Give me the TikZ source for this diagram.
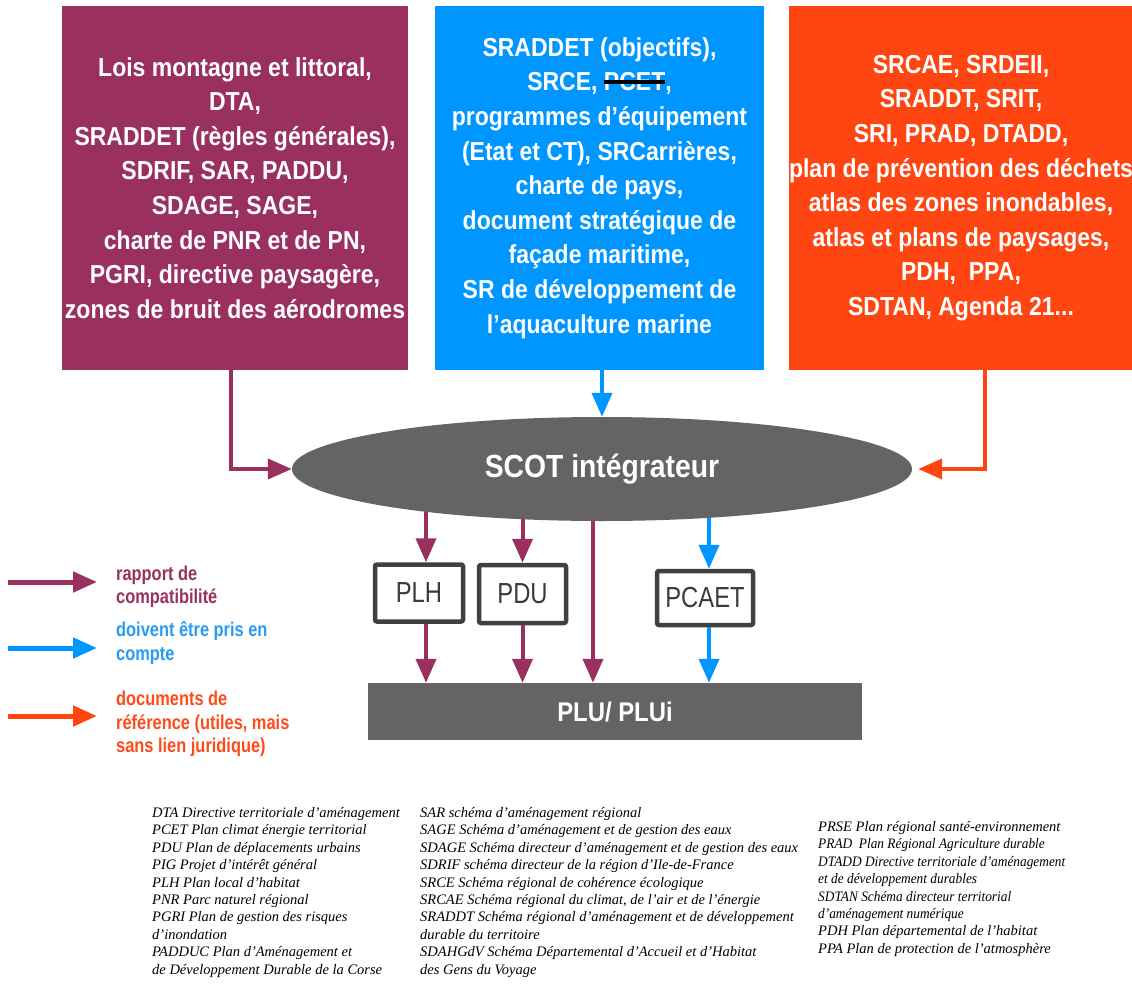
\documentclass[tikz,border=0pt]{standalone}
\usepackage{fontspec}
\setmainfont{Liberation Sans}
\newfontfamily\narrowfont{Liberation Sans}[FakeStretch=0.885]
\newfontfamily\docfont{Liberation Sans}[FakeStretch=0.82]
\newfontfamily\glossfont{Liberation Serif}
\usetikzlibrary{arrows.meta,shapes.geometric,backgrounds}
\definecolor{cpurple}{HTML}{993060}
\definecolor{cblue}{HTML}{0096FF}
\definecolor{corange}{HTML}{FF4512}
\definecolor{cgray}{HTML}{646464}
\definecolor{cdark}{HTML}{404040}
\definecolor{ctext}{HTML}{3A3A3A}
\definecolor{lpurple}{HTML}{99305E}
\definecolor{lblue}{HTML}{2A9BF0}
\definecolor{lorange}{HTML}{FF4A1A}
\newcommand\strk[1]{\setbox0\hbox{#1}\rlap{#1}{\color{black}\rule[0.28em]{\wd0}{0.15em}}}
\newcommand\cnd[1]{\scalebox{0.92}[1]{#1}}
\tikzset{
  topbox/.style={rectangle, inner sep=0pt, text=white, align=center,
    font=\narrowfont\bfseries\fontsize{26}{34.6}\selectfont},
  docbox/.style={rectangle, draw=cdark, line width=4.5pt, fill=white, rounded corners=2pt,
    inner sep=0pt, text=ctext, font=\docfont\fontsize{29}{32}\selectfont},
  conn/.style={line width=4pt, -{Triangle[length=24pt,width=20pt]}},
  parrow/.style={conn, draw=cpurple},
  barrow/.style={conn, draw=cblue},
  oarrow/.style={conn, draw=corange},
  legtext/.style={anchor=west, inner sep=0pt, align=left,
    font=\docfont\bfseries\fontsize{20}{23.5}\selectfont},
  gloss/.style={anchor=north west, inner sep=0pt, align=left, text=black,
    font=\glossfont\itshape\fontsize{14.5}{17.44}\selectfont}
}
\begin{document}
\begin{tikzpicture}[x=1pt,y=-1pt]
\useasboundingbox (0,0) rectangle (1132,984);
\begin{pgfonlayer}{background}
\fill[white] (0,0) rectangle (1132,984);
\end{pgfonlayer}

% top boxes
\node[topbox, fill=cpurple, minimum width=346pt, minimum height=364pt] (lbox) at (235,188)
  {Lois montagne et littoral,\\DTA,\\SRADDET (règles générales),\\SDRIF, SAR, PADDU,\\SDAGE, SAGE,\\charte de PNR et de PN,\\PGRI, directive paysagère,\\zones de bruit des aérodromes};
\node[topbox, fill=cblue, minimum width=329pt, minimum height=364pt] (mbox) at (599.5,188)
  {SRADDET (objectifs),\\SRCE, \strk{PCET},\\programmes d’équipement\\(Etat et CT), SRCarrières,\\charte de pays,\\document stratégique de\\façade maritime,\\SR de développement de\\l’aquaculture marine};
\node[topbox, fill=corange, minimum width=342pt, minimum height=364pt] (rbox) at (961,188)
  {SRCAE, SRDEII,\\SRADDT, SRIT,\\SRI, PRAD, DTADD,\\plan de prévention des déchets\\atlas des zones inondables,\\atlas et plans de paysages,\\PDH,\ \ PPA,\\SDTAN, Agenda 21...};

% SCOT ellipse
\node[ellipse, fill=cgray, inner sep=0pt, minimum width=620pt, minimum height=104pt,
  text=white, font=\narrowfont\bfseries\fontsize{32}{36}\selectfont] (scot) at (602,469) {SCOT intégrateur};

% document boxes
\node[docbox, minimum width=88pt, minimum height=57pt] (plh) at (419,593) {PLH};
\node[docbox, minimum width=87pt, minimum height=58pt] (pdu) at (522.5,594) {PDU};
\node[docbox, minimum width=96pt, minimum height=54pt] (pcaet) at (705,598) {PCAET};
\node[rectangle, fill=cgray, inner sep=0pt, minimum width=494pt, minimum height=57pt,
  text=white, font=\narrowfont\bfseries\fontsize{27}{32}\selectfont] (plu) at (615,711.5) {PLU/ PLUi};
\coordinate (direct) at (593,0);

% connectors
\draw[parrow] ([xshift=-4pt]lbox.south) |- (scot.west);
\draw[barrow] (mbox.south -| scot.north) -- (scot.north);
\draw[oarrow] ([xshift=24pt]rbox.south) |- ([xshift=6pt]scot.east);
\begin{pgfonlayer}{background}
\draw[parrow] ([xshift=7pt]plh.north |- scot.center) -- ([xshift=7pt]plh.north);
\draw[parrow] (pdu.north |- scot.center) -- (pdu.north);
\draw[barrow] ([xshift=4pt]pcaet.north |- scot.center) -- ([xshift=4pt]pcaet.north);
\draw[parrow] (direct |- scot.center) -- (direct |- plu.north);
\end{pgfonlayer}
\draw[parrow] ([xshift=7pt]plh.south) -- ([xshift=7pt]plh.south |- plu.north);
\draw[parrow] (pdu.south) -- (pdu.south |- plu.north);
\draw[barrow] ([xshift=4pt]pcaet.south) -- ([xshift=4pt]pcaet.south |- plu.north);

% legend
\coordinate (l1s) at (8,582); \coordinate (l1e) at (97,582);
\coordinate (l2s) at (8,648); \coordinate (l2e) at (97,648);
\coordinate (l3s) at (8,716); \coordinate (l3e) at (97,716);
\draw[parrow, line width=5pt] (l1s) -- (l1e);
\draw[barrow, line width=5pt] (l2s) -- (l2e);
\draw[oarrow, line width=5pt] (l3s) -- (l3e);
\node[legtext, text=lpurple] (leg1) at (116,587) {rapport de\\compatibilité};
\node[legtext, text=lblue] (leg2) at (116,643) {doivent être pris en\\compte};
\node[legtext, text=lorange] (leg3) at (116,724) {documents de\\référence (utiles, mais\\sans lien juridique)};

% glossary
\node[gloss] (g1) at (152,807) {DTA Directive territoriale d’aménagement\\PCET Plan climat énergie territorial\\PDU Plan de déplacements urbains\\PIG Projet d’intérêt général\\PLH Plan local d’habitat\\PNR Parc naturel régional\\PGRI Plan de gestion des risques\\d’inondation\\PADDUC Plan d’Aménagement et\\de Développement Durable de la Corse};
\node[gloss] (g2) at (420,807) {SAR schéma d’aménagement régional\\SAGE Schéma d’aménagement et de gestion des eaux\\SDAGE Schéma directeur d’aménagement et de gestion des eaux\\SDRIF schéma directeur de la région d’Ile-de-France\\SRCE Schéma régional de cohérence écologique\\SRCAE Schéma régional du climat, de l’air et de l’énergie\\SRADDT Schéma régional d’aménagement et de développement\\durable du territoire\\SDAHGdV Schéma Départemental d’Accueil et d’Habitat\\des Gens du Voyage};
\node[gloss] (g3) at (818,821) {PRSE Plan régional santé-environnement\\\cnd{PRAD\ \ Plan Régional Agriculture durable}\\\cnd{DTADD Directive territoriale d’aménagement}\\\cnd{et de développement durables}\\\cnd{SDTAN Schéma directeur territorial}\\\cnd{d’aménagement numérique}\\PDH Plan départemental de l’habitat\\PPA Plan de protection de l’atmosphère};
\end{tikzpicture}
\end{document}
